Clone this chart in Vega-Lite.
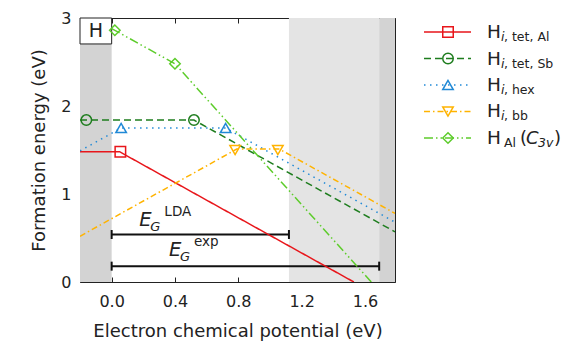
{
  "$schema": "https://vega.github.io/schema/vega-lite/v6.json",
  "padding": {"left": 30, "top": 9, "right": 0, "bottom": 0},
  "spacing": 21,
  "background": "white",
  "config": {
    "font": "DejaVu Sans",
    "view": {"stroke": "#222", "strokeWidth": 1},
    "axis": {"grid": false, "domain": false, "tickColor": "#222", "tickSize": -5, "tickWidth": 1, "labelColor": "#222", "titleColor": "#222", "labelFontSize": 16, "titleFontSize": 18, "titleFontWeight": "normal", "labelFont": "DejaVu Sans", "titleFont": "DejaVu Sans"},
    "text": {"font": "DejaVu Sans", "color": "#222"}
  },
  "datasets": {
    "bands": [
      {"x1": -0.2, "x2": 0.0, "r": "vb"},
      {"x1": 1.12, "x2": 1.69, "r": "gap"},
      {"x1": 1.69, "x2": 1.79, "r": "vb"}
    ],
    "lines": [
      {"s": "tetAl", "x": -0.2, "y": 1.48}, {"s": "tetAl", "x": 0.05, "y": 1.48}, {"s": "tetAl", "x": 1.53, "y": 0.0},
      {"s": "tetSb", "x": -0.2, "y": 1.84}, {"s": "tetSb", "x": 0.52, "y": 1.84}, {"s": "tetSb", "x": 1.79, "y": 0.57},
      {"s": "hex", "x": -0.2, "y": 1.49}, {"s": "hex", "x": 0.06, "y": 1.75}, {"s": "hex", "x": 0.72, "y": 1.75}, {"s": "hex", "x": 1.79, "y": 0.68},
      {"s": "bb", "x": -0.2, "y": 0.52}, {"s": "bb", "x": 0.79, "y": 1.51}, {"s": "bb", "x": 1.06, "y": 1.51}, {"s": "bb", "x": 1.79, "y": 0.78},
      {"s": "Al", "x": 0.0, "y": 2.88}, {"s": "Al", "x": 0.4, "y": 2.48}, {"s": "Al", "x": 1.64, "y": 0.0}
    ],
    "markers": [
      {"s": "tetAl", "x": 0.055, "y": 1.48},
      {"s": "tetSb", "x": -0.16, "y": 1.84}, {"s": "tetSb", "x": 0.52, "y": 1.84},
      {"s": "hex", "x": 0.06, "y": 1.75}, {"s": "hex", "x": 0.72, "y": 1.75},
      {"s": "bb", "x": 0.78, "y": 1.5}, {"s": "bb", "x": 1.05, "y": 1.5},
      {"s": "Al", "x": 0.02, "y": 2.86}, {"s": "Al", "x": 0.4, "y": 2.48}
    ],
    "gaps": [
      {"g": "LDA", "x1": 0.0, "x2": 1.12, "y": 0.54, "lx": 0.175, "ly": 0.636},
      {"g": "exp", "x1": 0.0, "x2": 1.69, "y": 0.18, "lx": 0.362, "ly": 0.29}
    ],
    "panel": [
      {"x1": -0.2, "x2": 0.0, "y1": 2.705, "y2": 3.0, "xm": -0.1, "ym": 2.852, "t": "H"}
    ],
    "legend": [
      {"s": "tetAl", "h": "H", "subi": "i", "sub": ", tet, Al", "open": "", "sym": "", "symsub": "", "close": ""},
      {"s": "tetSb", "h": "H", "subi": "i", "sub": ", tet, Sb", "open": "", "sym": "", "symsub": "", "close": ""},
      {"s": "hex", "h": "H", "subi": "i", "sub": ", hex", "open": "", "sym": "", "symsub": "", "close": ""},
      {"s": "bb", "h": "H", "subi": "i", "sub": ", bb", "open": "", "sym": "", "symsub": "", "close": ""},
      {"s": "Al", "h": "H", "subi": "", "sub": "Al", "open": "(", "sym": "C", "symsub": "3v", "close": ")"}
    ]
  },
  "hconcat": [
    {
      "width": 315,
      "height": 264,
      "resolve": {"axis": {"x": "independent", "y": "independent"}},
      "layer": [
        {
          "data": {"name": "bands"},
          "mark": {"type": "rect"},
          "encoding": {
            "x": {"field": "x1", "type": "quantitative", "scale": {"domain": [-0.2, 1.79], "nice": false, "zero": false}, "axis": null},
            "x2": {"field": "x2"},
            "fill": {"field": "r", "type": "nominal", "scale": {"domain": ["vb", "gap"], "range": ["#d3d3d3", "#e4e4e4"]}, "legend": null}
          }
        },
        {
          "data": {"name": "panel"},
          "mark": {"type": "rect", "fill": "white", "stroke": "#222", "strokeWidth": 1},
          "encoding": {
            "x": {"field": "x1", "type": "quantitative", "axis": null},
            "x2": {"field": "x2"},
            "y": {"field": "y1", "type": "quantitative", "scale": {"domain": [0, 3], "nice": false, "zero": false}, "axis": null},
            "y2": {"field": "y2"}
          }
        },
        {
          "data": {"name": "panel"},
          "mark": {"type": "text", "fontSize": 19, "align": "center", "baseline": "middle"},
          "encoding": {
            "x": {"field": "xm", "type": "quantitative", "axis": null},
            "y": {"field": "ym", "type": "quantitative", "axis": null},
            "text": {"field": "t"}
          }
        },
        {
          "data": {"name": "gaps"},
          "mark": {"type": "rule", "strokeWidth": 2, "color": "#111"},
          "encoding": {
            "x": {"field": "x1", "type": "quantitative", "axis": null},
            "x2": {"field": "x2"},
            "y": {"field": "y", "type": "quantitative", "axis": null}
          }
        },
        {
          "data": {"name": "gaps"},
          "mark": {"type": "tick", "orient": "vertical", "size": 9, "thickness": 2, "color": "#111", "opacity": 1},
          "encoding": {
            "x": {"field": "x1", "type": "quantitative", "axis": null},
            "y": {"field": "y", "type": "quantitative", "axis": null}
          }
        },
        {
          "data": {"name": "gaps"},
          "mark": {"type": "tick", "orient": "vertical", "size": 9, "thickness": 2, "color": "#111", "opacity": 1},
          "encoding": {
            "x": {"field": "x2", "type": "quantitative", "axis": null},
            "y": {"field": "y", "type": "quantitative", "axis": null}
          }
        },
        {
          "data": {"name": "gaps"},
          "mark": {"type": "text", "fontSize": 19.5, "fontStyle": "italic", "align": "left", "baseline": "alphabetic"},
          "encoding": {
            "x": {"field": "lx", "type": "quantitative", "axis": null},
            "y": {"field": "ly", "type": "quantitative", "axis": null},
            "text": {"value": "E"}
          }
        },
        {
          "data": {"name": "gaps"},
          "mark": {"type": "text", "fontSize": 13, "fontStyle": "italic", "align": "left", "baseline": "alphabetic", "dx": 11, "dy": 4.5},
          "encoding": {
            "x": {"field": "lx", "type": "quantitative", "axis": null},
            "y": {"field": "ly", "type": "quantitative", "axis": null},
            "text": {"value": "G"}
          }
        },
        {
          "data": {"name": "gaps"},
          "mark": {"type": "text", "fontSize": 13.5, "align": "left", "baseline": "alphabetic", "dx": 25, "dy": -10},
          "encoding": {
            "x": {"field": "lx", "type": "quantitative", "axis": null},
            "y": {"field": "ly", "type": "quantitative", "axis": null},
            "text": {"field": "g"}
          }
        },
        {
          "data": {"name": "lines"},
          "mark": {"type": "line", "strokeWidth": 1.5, "clip": true},
          "encoding": {
            "x": {"field": "x", "type": "quantitative", "axis": {"orient": "bottom", "title": "Electron chemical potential (eV)", "values": [0, 0.4, 0.8, 1.2, 1.6], "format": ".1f", "labelPadding": 16, "titlePadding": 13}},
            "y": {"field": "y", "type": "quantitative", "axis": {"orient": "left", "title": "Formation energy (eV)", "values": [0, 1, 2, 3], "format": "d", "labelPadding": 14, "titlePadding": 12}},
            "stroke": {"field": "s", "type": "nominal", "scale": {"domain": ["tetAl", "tetSb", "hex", "bb", "Al"], "range": ["#e8161b", "#1e7d1e", "#2089d6", "#ffb300", "#5dcc2b"]}, "legend": null},
            "strokeDash": {"field": "s", "type": "nominal", "scale": {"domain": ["tetAl", "tetSb", "hex", "bb", "Al"], "range": [[1, 0], [7, 4], [1.5, 4.5], [6, 3, 1.5, 3], [9, 3, 1.5, 3, 1.5, 3]]}, "legend": null}
          }
        },
        {
          "data": {"name": "markers"},
          "mark": {"type": "point", "filled": false, "strokeWidth": 1.5, "size": 110, "opacity": 1},
          "encoding": {
            "x": {"field": "x", "type": "quantitative", "axis": {"orient": "top", "labels": false, "title": null, "values": [0, 0.4, 0.8, 1.2, 1.6]}},
            "y": {"field": "y", "type": "quantitative", "axis": {"orient": "right", "labels": false, "title": null, "values": [0, 1, 2, 3]}},
            "stroke": {"field": "s", "type": "nominal", "legend": null},
            "shape": {"field": "s", "type": "nominal", "scale": {"domain": ["tetAl", "tetSb", "hex", "bb", "Al"], "range": ["square", "circle", "triangle-up", "triangle-down", "diamond"]}, "legend": null}
          }
        }
      ]
    },
    {
      "width": 150,
      "height": 134,
      "view": {"stroke": null},
      "data": {"name": "legend"},
      "encoding": {
        "y": {"field": "s", "type": "nominal", "scale": {"type": "point", "domain": ["tetAl", "tetSb", "hex", "bb", "Al"], "padding": 0.53}, "axis": null}
      },
      "layer": [
        {
          "mark": {"type": "rule", "strokeWidth": 1.5},
          "encoding": {
            "x": {"datum": 7, "type": "quantitative", "scale": {"domain": [0, 150], "nice": false, "zero": false}, "axis": null},
            "x2": {"datum": 54},
            "stroke": {"field": "s", "type": "nominal", "legend": null},
            "strokeDash": {"field": "s", "type": "nominal", "legend": null}
          }
        },
        {
          "mark": {"type": "point", "filled": false, "strokeWidth": 1.5, "size": 110, "opacity": 1},
          "encoding": {
            "x": {"datum": 31, "type": "quantitative"},
            "stroke": {"field": "s", "type": "nominal", "legend": null},
            "shape": {"field": "s", "type": "nominal", "legend": null}
          }
        },
        {
          "mark": {"type": "text", "fontSize": 18.5, "align": "left", "baseline": "alphabetic", "dy": 6},
          "encoding": {"x": {"datum": 70, "type": "quantitative"}, "text": {"field": "h"}}
        },
        {
          "mark": {"type": "text", "fontSize": 12.5, "fontStyle": "italic", "align": "left", "baseline": "alphabetic", "dy": 9},
          "encoding": {"x": {"datum": 84, "type": "quantitative"}, "text": {"field": "subi"}}
        },
        {
          "mark": {"type": "text", "fontSize": 12.5, "align": "left", "baseline": "alphabetic", "dy": 9},
          "encoding": {"x": {"datum": 87, "type": "quantitative"}, "text": {"field": "sub"}}
        },
        {
          "transform": [{"filter": "datum.sym != ''"}],
          "mark": {"type": "text", "fontSize": 18, "align": "left", "baseline": "alphabetic", "dy": 6},
          "encoding": {"x": {"datum": 103, "type": "quantitative"}, "text": {"field": "open"}}
        },
        {
          "transform": [{"filter": "datum.sym != ''"}],
          "mark": {"type": "text", "fontSize": 18, "fontStyle": "italic", "align": "left", "baseline": "alphabetic", "dy": 6},
          "encoding": {"x": {"datum": 109, "type": "quantitative"}, "text": {"field": "sym"}}
        },
        {
          "transform": [{"filter": "datum.sym != ''"}],
          "mark": {"type": "text", "fontSize": 12.5, "fontStyle": "italic", "align": "left", "baseline": "alphabetic", "dy": 9},
          "encoding": {"x": {"datum": 121, "type": "quantitative"}, "text": {"field": "symsub"}}
        },
        {
          "transform": [{"filter": "datum.sym != ''"}],
          "mark": {"type": "text", "fontSize": 18, "align": "left", "baseline": "alphabetic", "dy": 6},
          "encoding": {"x": {"datum": 137, "type": "quantitative"}, "text": {"field": "close"}}
        }
      ]
    }
  ]
}
